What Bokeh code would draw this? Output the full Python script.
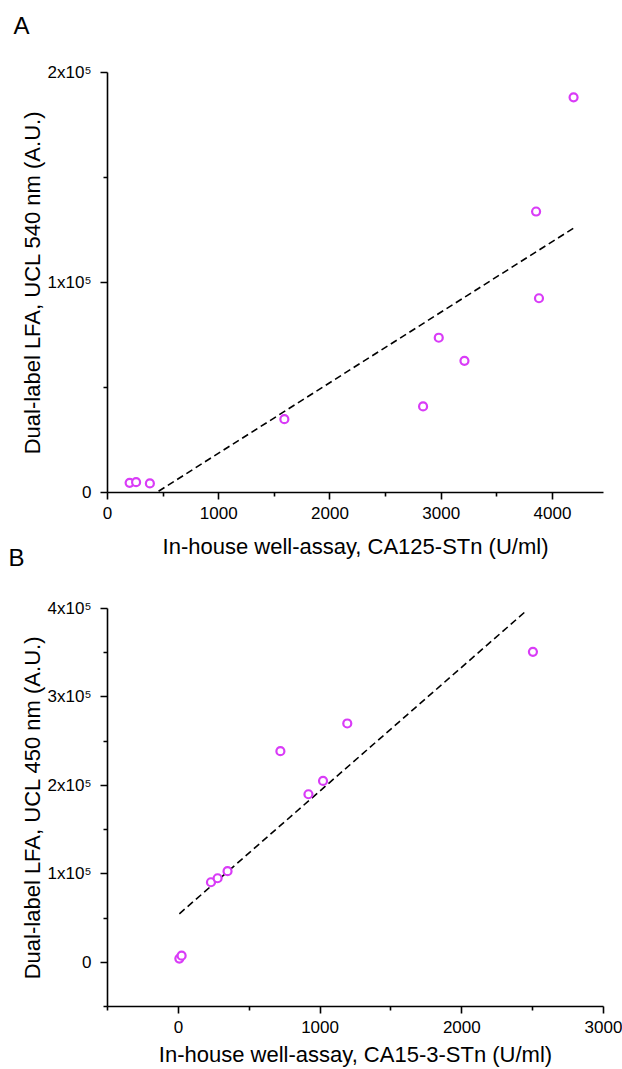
from bokeh.plotting import figure
from bokeh.layouts import column
from bokeh.models import Range1d, FixedTicker, Title
from bokeh.embed import file_html
from bokeh.resources import INLINE

# ---- data ----
a_x = [199, 257, 381, 1590, 2837, 2978, 3209, 3853, 3879, 4190]
a_y = [4600, 4900, 4300, 34900, 41000, 73700, 62700, 133800, 92500, 188200]
a_fit_x = [459, 4190]
a_fit_y = [600, 125900]

b_x = [7, 23, 230, 277, 347, 720, 918, 1021, 1192, 2502]
b_y = [4200, 7500, 90500, 95000, 103000, 238700, 190000, 205000, 270000, 351000]
b_fit_x = [7, 2455]
b_fit_y = [54800, 397400]

a_xticks = [0, 1000, 2000, 3000, 4000]
a_xminor = [500, 1500, 2500, 3500, 4500]
a_yticks = [0, 100000, 200000]
a_yminor = [50000, 150000]
a_ylabels = ["0", "1x10\u2075", "2x10\u2075"]

b_xticks = [0, 1000, 2000, 3000]
b_xminor = [-500, 500, 1500, 2500]
b_yticks = [0, 100000, 200000, 300000, 400000]
b_yminor = [-50000, 50000, 150000, 250000, 350000]
b_ylabels = ["0", "1x10\u2075", "2x10\u2075", "3x10\u2075", "4x10\u2075"]

FONT = "Liberation Sans"
MAG = "#D93CF7"


def style(p, xt, xm, yt, ym, ylabels, xlab, ylab, xstand, letter, offset, gap):
    p.xgrid.visible = False
    p.ygrid.visible = False
    p.outline_line_color = None
    p.background_fill_color = "white"
    p.xaxis.ticker = FixedTicker(ticks=xt, minor_ticks=xm)
    p.yaxis.ticker = FixedTicker(ticks=yt, minor_ticks=ym)
    p.xaxis.major_label_overrides = {t: str(t) for t in xt}
    p.yaxis.major_label_overrides = {t: l for t, l in zip(yt, ylabels)}
    for ax in (p.xaxis[0], p.yaxis[0]):
        ax.axis_line_width = 1.6
        ax.axis_line_color = "black"
        ax.major_tick_line_width = 1.6
        ax.minor_tick_line_width = 1.6
        ax.major_tick_line_color = "black"
        ax.minor_tick_line_color = "black"
        ax.major_tick_in = 0
        ax.minor_tick_in = 0
        ax.major_tick_out = 7
        ax.minor_tick_out = 4
        ax.major_label_text_font = FONT
        ax.major_label_text_font_size = "17px"
        ax.major_label_text_color = "black"
        ax.axis_label_text_font = FONT
        ax.axis_label_text_font_size = "22px"
        ax.axis_label_text_font_style = "normal"
        ax.axis_label_text_color = "black"
    p.xaxis.axis_label = xlab
    p.yaxis.axis_label = ylab
    p.xaxis.major_label_standoff = 7
    p.yaxis.major_label_standoff = 9
    p.xaxis.axis_label_standoff = xstand
    p.yaxis.axis_label_standoff = 0
    # panel letter: a spacer title next to the frame, then the letter above it
    p.title_location = None
    p.add_layout(Title(text=" ", text_font_size="10px", standoff=gap), "above")
    p.add_layout(Title(text=letter, align="left", vertical_align="top",
                       offset=offset, standoff=0, text_font=FONT,
                       text_font_size="24px", text_font_style="normal",
                       text_color="black"), "above")


# ---- panel A ----
pa = figure(width=622, height=570, output_backend="svg", toolbar_location=None,
            x_range=Range1d(0, 4459), y_range=Range1d(0, 200000),
            min_border_left=107, min_border_right=0, min_border_top=72,
            min_border_bottom=78)
style(pa, a_xticks, a_xminor, a_yticks, a_yminor, a_ylabels,
      "In-house well-assay, CA125-STn (U/ml)",
      "Dual-label LFA, UCL 540 nm (A.U.)", 12, "A", -94, 19)
pa.line(a_fit_x, a_fit_y, line_color="black", line_width=1.6, line_dash="7 4")
pa.scatter(a_x, a_y, marker="circle", size=8, line_color=MAG, line_width=2.2,
           fill_color="white")

# ---- panel B (pulled up so that its letter sits beside panel A's axis title) ----
pb = figure(width=622, height=534, output_backend="svg", toolbar_location=None,
            x_range=Range1d(-500, 3000), y_range=Range1d(-50000, 400000),
            min_border_left=107, min_border_right=19, min_border_top=73,
            min_border_bottom=62)
pb.border_fill_color = None
pb.margin = (-35, 0, 0, 0)
style(pb, b_xticks, b_xminor, b_yticks, b_yminor, b_ylabels,
      "In-house well-assay, CA15-3-STn (U/ml)",
      "Dual-label LFA, UCL 450 nm (A.U.)", 6, "B", -99, 23)
pb.line(b_fit_x, b_fit_y, line_color="black", line_width=1.6, line_dash="7 4")
pb.scatter(b_x, b_y, marker="circle", size=8, line_color=MAG, line_width=2.2,
           fill_color="white")

layout = column(pa, pb, spacing=0)
open("out.html", "w").write(file_html(layout, INLINE))
